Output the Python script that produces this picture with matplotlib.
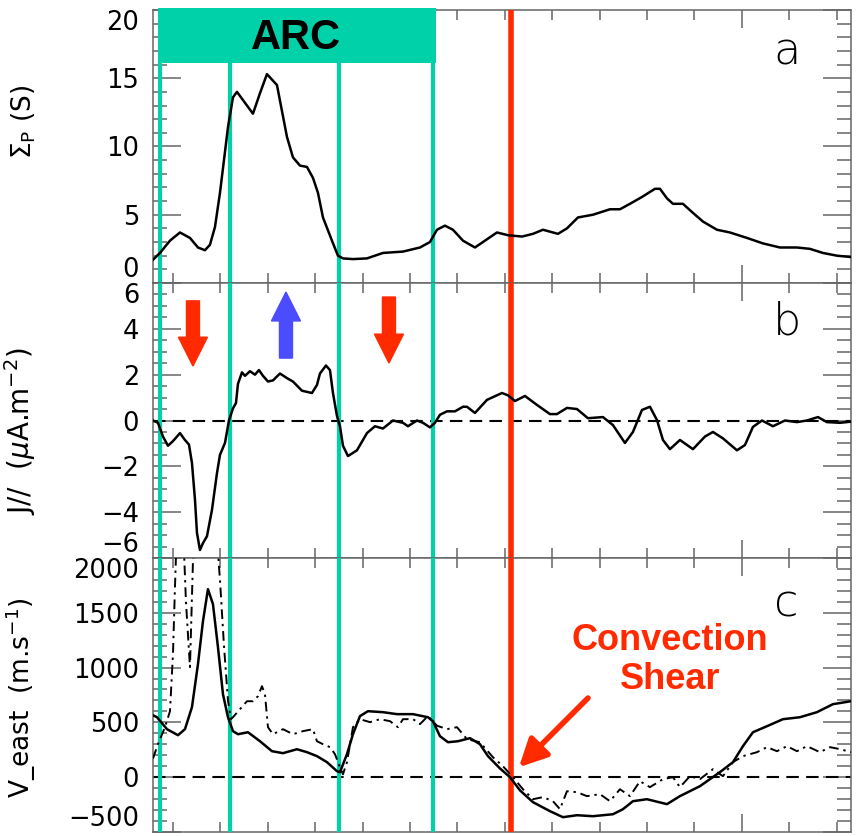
import numpy as np
import matplotlib
matplotlib.use('Agg')
import matplotlib.pyplot as plt
from matplotlib import transforms
from matplotlib.patches import Rectangle, FancyArrow

# ---- Pedersen conductance (panel a) ----
sig_x = [0.0, 0.7, 1.7, 2.7, 3.7, 4.5, 5.2, 5.7, 6.2, 6.7,
         7.1, 7.5, 8.0, 8.4, 9.2, 10.0, 10.7, 11.4, 12.4, 12.9,
         13.4, 14.0, 14.7, 15.4, 16.0, 16.5, 17.0, 17.9, 18.5, 19.0,
         20.0, 21.4, 23.0, 25.0, 26.7, 27.7, 28.4, 29.2, 30.0, 31.0,
         32.2, 33.2, 34.4, 35.5, 36.9, 38.0, 39.0, 40.5, 41.4, 42.5,
         44.0, 45.7, 46.7, 47.7, 48.9, 50.2, 50.7, 51.4, 52.0, 53.0,
         53.9, 55.0, 56.4, 57.7, 59.4, 61.0, 62.7, 64.4, 65.7, 67.0,
         68.4, 69.8]
sig_p = [1.7, 2.2, 3.1, 3.7, 3.3, 2.6, 2.4, 2.8, 4.1, 6.6,
         9.0, 11.4, 13.6, 14.0, 13.2, 12.4, 13.9, 15.3, 14.5, 12.6,
         10.7, 9.2, 8.6, 8.5, 7.7, 6.6, 4.8, 3.1, 2.0, 1.8,
         1.75, 1.8, 2.2, 2.3, 2.6, 3.0, 3.9, 4.2, 3.9, 3.1,
         2.6, 3.1, 3.7, 3.5, 3.4, 3.6, 3.9, 3.6, 4.0, 4.8,
         5.0, 5.4, 5.4, 5.8, 6.3, 6.9, 6.9, 6.2, 5.8, 5.8,
         5.2, 4.5, 3.9, 3.7, 3.3, 2.9, 2.6, 2.6, 2.5, 2.2,
         2.0, 1.9]

# ---- field-aligned current (panel b) ----
j_x = [0.0, 0.5, 1.0, 1.5, 2.0, 2.7, 3.2, 3.6, 3.9, 4.2,
       4.4, 4.7, 5.0, 5.4, 5.9, 6.4, 6.7, 7.2, 7.6, 8.0,
       8.3, 8.5, 8.9, 9.2, 9.7, 10.2, 10.6, 11.0, 11.5, 12.0,
       12.7, 13.4, 14.0, 14.9, 15.9, 16.4, 16.7, 17.3, 17.7, 18.0,
       18.4, 18.7, 19.0, 19.5, 20.4, 21.4, 22.2, 23.0, 24.0, 25.0,
       25.5, 26.4, 27.0, 27.7, 28.2, 28.7, 29.4, 30.2, 31.0, 31.4,
       32.2, 33.4, 34.9, 35.5, 36.2, 37.2, 38.4, 39.7, 40.4, 41.4,
       42.4, 43.5, 45.0, 46.0, 47.2, 48.0, 48.9, 49.7, 50.4, 51.0,
       51.7, 52.7, 54.0, 55.2, 56.0, 57.0, 58.4, 59.2, 60.0, 60.9,
       62.0, 63.2, 64.4, 65.4, 66.5, 67.4, 68.7, 69.8]
j_par = [0.0, -0.1, -0.7, -1.1, -0.9, -0.55, -0.85, -1.05, -1.85, -3.45,
         -4.9, -5.65, -5.35, -5.05, -3.9, -2.3, -1.5, -0.98, 0.0, 0.53,
         0.76, 1.6, 2.1, 1.95, 2.15, 2.0, 2.2, 1.95, 1.7, 1.75,
         2.05, 1.85, 1.7, 1.3, 1.2, 1.55, 2.05, 2.4, 2.2, 1.2,
         0.2, -0.25, -1.1, -1.55, -1.3, -0.55, -0.25, -0.35, 0.0, -0.1,
         -0.25, 0.0, -0.1, -0.3, -0.1, 0.25, 0.4, 0.4, 0.6, 0.6,
         0.33, 0.9, 1.2, 1.1, 0.85, 1.07, 0.68, 0.28, 0.28, 0.55,
         0.5, 0.1, 0.15, -0.2, -0.98, -0.5, 0.46, 0.6, 0.02, -0.85,
         -1.25, -0.85, -1.25, -0.7, -0.5, -0.78, -1.3, -1.07, -0.28, 0.0,
         -0.25, 0.0, -0.07, 0.0, 0.15, -0.07, -0.1, -0.05]

# ---- eastward velocity (panel c) ----
v_x = [0.0, 0.4, 1.4, 2.5, 3.2, 3.9, 4.5, 5.0, 5.5, 6.0,
       6.5, 7.0, 7.5, 8.0, 8.5, 9.5, 10.7, 11.9, 13.0, 14.4,
       15.4, 16.4, 17.4, 18.4, 18.7, 19.4, 20.0, 20.7, 21.5, 23.0,
       24.4, 26.0, 27.5, 28.0, 28.7, 29.5, 30.5, 31.7, 32.7, 33.5,
       34.7, 35.7, 36.7, 38.0, 39.7, 41.0, 42.4, 44.0, 46.0, 47.0,
       48.0, 49.4, 51.4, 52.7, 54.7, 56.7, 58.0, 59.0, 60.0, 61.4,
       63.0, 64.7, 66.4, 68.0, 69.8]
v_east = [565, 547, 438, 383, 438, 639, 1031, 1423, 1715, 1578,
          1186, 757, 547, 420, 392, 410, 328, 237, 219, 255,
          228, 192, 137, 55, 46, 210, 392, 557, 602, 593,
          575, 575, 547, 510, 374, 319, 328, 356, 301, 192,
          80, 0, -120, -228, -310, -365, -347, -356, -338, -292,
          -219, -201, -246, -173, -82, 46, 137, 283, 410, 465,
          529, 547, 593, 666, 693]

v2_x = [0.0, 0.5, 1.2, 1.7, 2.0, 2.2, 2.4, 3.0, 3.3, 3.7,
        4.0, 4.3, 6.3, 6.7, 7.1, 7.5, 7.8, 8.0, 8.7, 9.4,
        10.0, 10.5, 10.9, 11.2, 11.5, 12.0, 13.0, 14.0, 15.0, 16.0,
        16.4, 17.0, 17.7, 18.2, 18.7, 19.0, 19.4, 20.0, 20.7, 21.7,
        22.7, 23.7, 24.5, 25.0, 26.0, 26.7, 27.5, 28.4, 29.4, 30.4,
        31.4, 32.7, 34.0, 35.0, 36.0, 37.0, 38.0, 39.0, 40.0, 40.7,
        41.4, 42.4, 43.4, 44.7, 45.7, 46.7, 47.7, 48.7, 49.7, 51.0,
        52.0, 52.7, 53.7, 54.7, 56.0, 57.0, 58.0, 59.0, 60.4, 61.4,
        62.4, 63.4, 64.4, 65.4, 66.7, 67.7, 68.7, 69.8]
v2_east = [170, 301, 456, 602, 1122, 1733, 2300, 2300, 1600, 1004,
           1970, 2300, 2300, 1800, 1200, 700, 530, 547, 620, 693,
           693, 739, 830, 757, 456, 392, 438, 392, 420, 438,
           328, 301, 274, 210, 91, 27, 137, 456, 529, 502,
           529, 511, 456, 529, 530, 484, 557, 470, 438, 456,
           347, 319, 182, 100, 0, -110, -201, -182, -219, -292,
           -128, -137, -173, -155, -219, -110, -173, -37, -91, -18,
           0, -91, 9, -18, 73, 9, 137, 192, 228, 274,
           237, 283, 237, 283, 228, 274, 256, 228]

# arc boundaries and the convection shear position
arc_bounds = [0.7, 7.7, 18.6, 28.0]
shear_x = 35.8

CYAN = '#00D1A9'
RED = '#FF2A00'
BLUE = '#4B4BFF'
GREY = '#666666'

plt.rcParams['font.family'] = 'DejaVu Sans'

fig = plt.figure(figsize=(8.56, 8.36), dpi=100)
L, W = 0.1787, 0.8154
ax_a = fig.add_axes([L, 0.6615, W, 0.3266])
ax_b = fig.add_axes([L, 0.3325, W, 0.3290])
ax_c = fig.add_axes([L, 0.0048, W, 0.3278])

xt = 2.0 + 4.74 * np.arange(15)
for ax in (ax_a, ax_b, ax_c):
    ax.set_xlim(0, 69.8)
    ax.set_xticks([xt[12]])
    ax.set_xticks(np.delete(xt, 12), minor=True)
    ax.tick_params(axis='x', which='both', direction='in', top=True, bottom=True,
                   labelbottom=False, color=GREY, width=1.1)
    ax.tick_params(axis='x', which='major', length=13)
    ax.tick_params(axis='x', which='minor', length=7)
    ax.tick_params(axis='y', which='both', direction='in', left=True, right=True,
                   color=GREY, width=1.1, labelsize=18.5, pad=10)
    ax.tick_params(axis='y', which='major', length=20)
    ax.tick_params(axis='y', which='minor', length=10)
    for s in ax.spines.values():
        s.set_color(GREY)
        s.set_linewidth(1.1)
    for xb in arc_bounds:
        ax.axvline(xb, color=CYAN, lw=3, zorder=3)
    ax.axvline(shear_x, color=RED, lw=4, zorder=3)

# panel a
ax_a.plot(sig_x, sig_p, color='black', lw=1.8, zorder=4)
ax_a.set_ylim(0, 20)
ax_a.set_yticks([0, 5, 10, 15, 20])
ax_a.set_yticks(np.arange(0, 21, 1), minor=True)
ax_a.set_ylabel(r'$\Sigma_{\mathrm{P}}$ (S)', fontsize=19)
ax_a.yaxis.set_label_coords(-0.165, 0.59)
ax_a.text(0.908, 0.846, 'a', transform=ax_a.transAxes, fontsize=32,
          ha='center', va='center', fontweight='light')

band = transforms.blended_transform_factory(ax_a.transData, ax_a.transAxes)
ax_a.add_patch(Rectangle((0.5, 0.806), 27.8, 0.201, transform=band,
                         facecolor=CYAN, edgecolor='none', clip_on=False, zorder=6))
ax_a.text(14.3, 0.897, 'ARC', transform=band, fontsize=30, fontweight='bold',
          family='Liberation Sans', ha='center', va='center', zorder=7)

# panel b
ax_b.plot(j_x, j_par, color='black', lw=1.8, zorder=4)
ax_b.axhline(0, color='black', lw=1.5, linestyle=(0, (6, 3.5)), zorder=2)
ax_b.set_ylim(-6, 6)
ax_b.set_yticks([-6, -4, -2, 0, 2, 4, 6])
ax_b.set_yticks(np.arange(-6, 6.1, 0.5), minor=True)
ax_b.set_yticklabels(['\u22126', '\u22124', '\u22122', '0', '2', '4', '6'])
ax_b.set_ylabel(r'J//  ($\mu$A.m$^{-2}$)', fontsize=20)
ax_b.yaxis.set_label_coords(-0.165, 0.46)
ax_b.text(0.908, 0.858, 'b', transform=ax_b.transAxes, fontsize=32,
          ha='center', va='center', fontweight='light')

arr = transforms.blended_transform_factory(ax_b.transData, ax_b.transAxes)
for ax_x, y0, dy, col in [(4.0, 0.935, -0.237, RED),
                          (13.3, 0.727, 0.240, BLUE),
                          (23.6, 0.949, -0.240, RED)]:
    ax_b.add_patch(FancyArrow(ax_x, y0, 0, dy, width=1.3, head_width=2.9,
                              head_length=0.105, length_includes_head=True,
                              transform=arr, color=col, zorder=5))

# panel c
ax_c.plot(v_x, v_east, color='black', lw=1.8, zorder=4)
ax_c.plot(v2_x, v2_east, color='black', lw=1.4,
          linestyle=(0, (5, 2.5, 1.2, 2.5)), zorder=4)
ax_c.axhline(0, color='black', lw=1.5, linestyle=(0, (6, 3.5)), zorder=2)
ax_c.set_ylim(-500, 2000)
ax_c.set_yticks([-500, 0, 500, 1000, 1500, 2000])
ax_c.set_yticks(np.arange(-500, 2001, 100), minor=True)
ax_c.set_yticklabels(['\u2212500', '0', '500', '1000', '1500', '2000'])
ax_c.set_ylabel(r'V_east  (m.s$^{-1}$)', fontsize=19)
ax_c.yaxis.set_label_coords(-0.165, 0.49)
ax_c.text(0.908, 0.832, 'c', transform=ax_c.transAxes, fontsize=32,
          ha='center', va='center', fontweight='light')

ax_c.text(51.7, 1070, 'Convection\nShear', color=RED, fontsize=26,
          fontweight='bold', family='Liberation Sans', ha='center',
          va='center', linespacing=1.15, zorder=6)
ax_c.annotate('', xy=(36.4, 73), xytext=(43.7, 740),
              arrowprops=dict(arrowstyle='-|>', color=RED, lw=4,
                              mutation_scale=42), zorder=6)

# keep the end labels inside each panel
for ax in (ax_a, ax_b, ax_c):
    ticks = ax.yaxis.get_major_ticks()
    ticks[0].label1.set_va('bottom')
    ticks[-1].label1.set_va('top')

fig.savefig('out.png', dpi=100)
